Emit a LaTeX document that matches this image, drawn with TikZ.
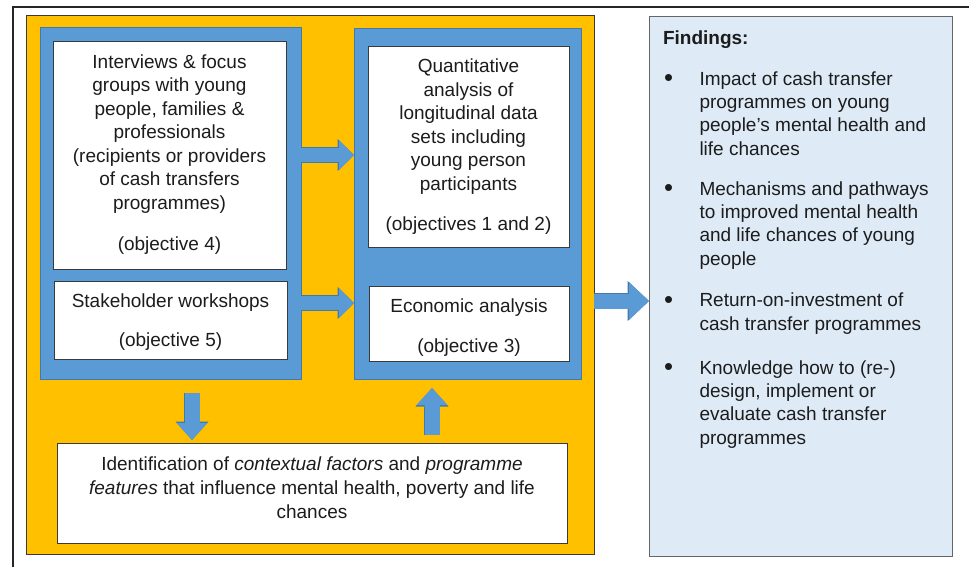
\documentclass[tikz,border=0pt]{standalone}
\usepackage{fontspec}
\setmainfont{Liberation Sans}
\usetikzlibrary{arrows.meta,calc}
\definecolor{ylw}{HTML}{FFC000}
\definecolor{blu}{HTML}{5B9BD5}
\definecolor{bluedge}{HTML}{4578AA}
\definecolor{lblu}{HTML}{DEEBF7}
\definecolor{txt}{HTML}{1C1C1C}
\definecolor{edge}{HTML}{3A3A3A}
\newcommand{\bigbul}{\raisebox{-1.8pt}{\scalebox{1.35}{\textbullet}}}
\begin{document}
\begin{tikzpicture}[x=1pt,y=-1pt,
  every node/.style={inner sep=0pt,outer sep=0pt,text=txt,font=\fontsize{19}{23.5}\selectfont},
  rect/.style={draw=edge,line width=0.9pt,anchor=north west},
  ybox/.style={rect,fill=ylw},
  bbox/.style={draw=bluedge,line width=0.8pt,fill=blu,anchor=north west},
  wbox/.style={rect,fill=white},
  fbox/.style={draw=gray!80!black,line width=1pt,fill=lblu,anchor=north west},
  ctext/.style={align=center,anchor=base},
  ltext/.style={align=left,anchor=base west,font=\fontsize{19}{23.3}\selectfont},
  bul/.style={anchor=base},
  blk/.style={line width=14pt,draw=blu,-{Triangle[length=15pt,width=30pt,line width=0pt]},
    preaction={draw=bluedge,line width=15.4pt,-{Triangle[length=16.5pt,width=32pt,line width=0pt]}}},
  blkv/.style={line width=15pt,draw=blu,-{Triangle[length=17pt,width=31pt,line width=0pt]},
    preaction={draw=bluedge,line width=16.4pt,-{Triangle[length=18.5pt,width=33pt,line width=0pt]}}},
  blkbig/.style={line width=15pt,draw=blu,-{Triangle[length=20pt,width=38pt,line width=0pt]},
    preaction={draw=bluedge,line width=16.4pt,-{Triangle[length=21.5pt,width=40pt,line width=0pt]}}}
]
\useasboundingbox (0,0) rectangle (969,566);
% outer frame
\draw[line width=1.8pt,draw=black!85] (13,570) -- (13,7) -- (975,7);
% yellow background
\node[ybox,minimum width=568pt,minimum height=539pt] (yel) at (26,15) {};
% blue frames
\node[bbox,minimum width=261pt,minimum height=352pt] (blueL) at (40,27) {};
\node[bbox,minimum width=227pt,minimum height=351pt] (blueR) at (354,28) {};
% white boxes
\node[wbox,minimum width=233pt,minimum height=228pt] (w1) at (53,41) {};
\node[wbox,minimum width=233pt,minimum height=78pt] (w2) at (54,281) {};
\node[wbox,minimum width=201pt,minimum height=201pt] (wq) at (368,46) {};
\node[wbox,minimum width=200pt,minimum height=75pt] (we) at (369,286) {};
\node[wbox,minimum width=510pt,minimum height=100pt] (wb) at (57,443) {};
% findings box
\node[fbox,minimum width=303pt,minimum height=540pt] (find) at (649,16) {};

% texts (base anchor = baseline of last line)
\node[ctext] (t1) at (169.5,250) {Interviews \& focus\\groups with young\\people, families \&\\professionals\\(recipients or providers\\of cash transfers\\programmes)\\[17.5pt](objective 4)};
\node[ctext] (t2) at (170.5,346) {Stakeholder workshops\\[15.5pt](objective 5)};
\node[ctext] (tq) at (468.5,230) {Quantitative\\analysis of\\longitudinal data\\sets including\\young person\\participants\\[16.5pt](objectives 1 and 2)};
\node[ctext] (te) at (469,352) {Economic analysis\\[16.5pt](objective 3)};
\node[ctext,font=\fontsize{19}{24}\selectfont] (tb) at (312,518) {Identification of \textit{contextual factors} and \textit{programme}\\\textit{features} that influence mental health, poverty and life\\chances};

\node[anchor=base west,font=\fontsize{19}{23.3}\selectfont\bfseries] (fh) at (663,44) {Findings:};
\node[bul] (b1) at (668.5,85) {\bigbul};
\node[ltext] (f1) at (699.5,155) {Impact of cash transfer\\programmes on young\\people’s mental health and\\life chances};
\node[bul] (b2) at (668.5,195) {\bigbul};
\node[ltext] (f2) at (699.5,265) {Mechanisms and pathways\\to improved mental health\\and life chances of young\\people};
\node[bul] (b3) at (668.5,307) {\bigbul};
\node[ltext] (f3) at (699.5,330) {Return-on-investment of\\cash transfer programmes};
\node[bul] (b4) at (668.5,374) {\bigbul};
\node[ltext] (f4) at (699.5,444) {Knowledge how to (re-)\\design, implement or\\evaluate cash transfer\\programmes};

% block arrows
\draw[blk] (blueL.east |- 0,155) -- (blueR.west |- 0,155);
\draw[blk] (blueL.east |- 0,303) -- (blueR.west |- 0,303);
\draw[blkv,shorten <=14pt,shorten >=3pt] (blueL.south -| 192,0) -- (wb.north -| 192,0);
\draw[blkv,shorten <=8pt,shorten >=9pt] (wb.north -| 432,0) -- (blueR.south -| 432,0);
\draw[blkbig] (yel.east |- 0,301) -- (find.west |- 0,301);
\end{tikzpicture}
\end{document}
